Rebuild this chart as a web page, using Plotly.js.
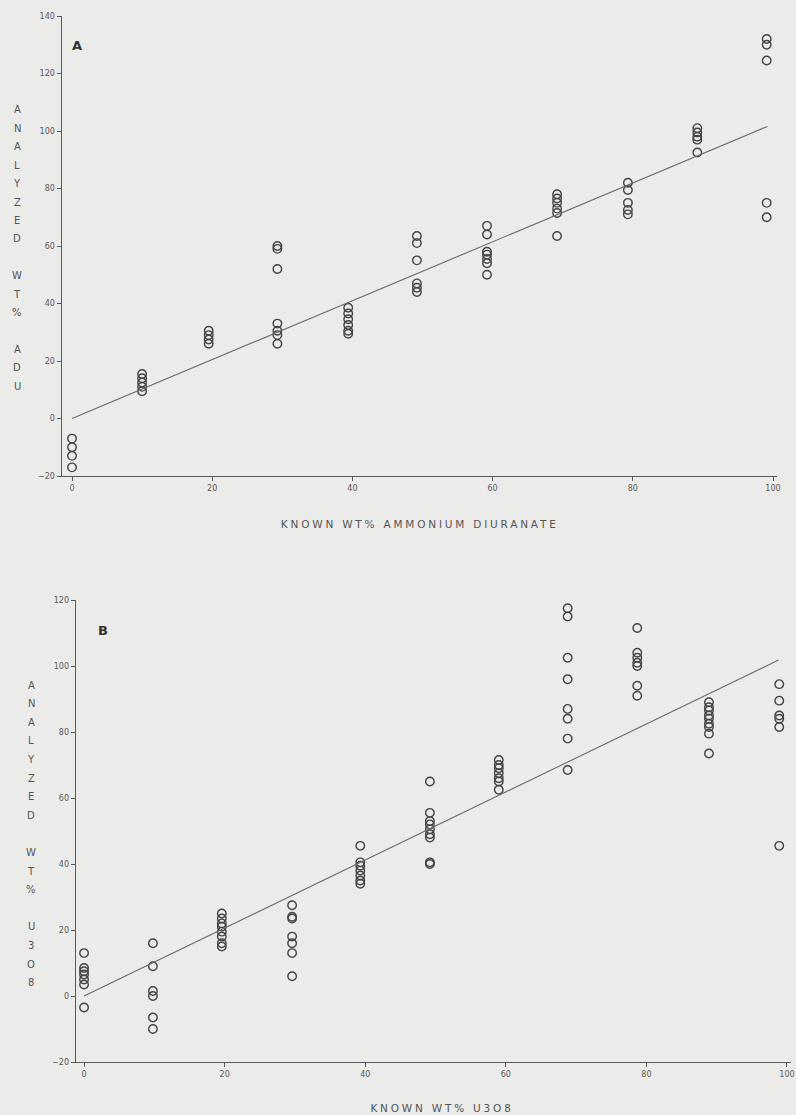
<!DOCTYPE html>
<html><head><meta charset="utf-8">
<script src="https://cdn.plot.ly/plotly-3.0.1.min.js"></script>
<style>html,body{margin:0;padding:0;background:#ebebe9}</style>
</head><body>
<div id="chart" style="width:796px;height:1115px"></div>
<script>
// ---------- Panel A : ammonium diuranate ----------
const aduKnown = [0, 10, 19.5, 29.3, 39.4, 49.2, 59.2, 69.2, 79.3, 89.2, 99.1];
const aduAnalyzed = [
  [-7, -10, -13, -17],
  [15.5, 14, 12.5, 11, 9.5],
  [30.5, 29, 27.5, 26],
  [60, 59, 52, 33, 30.5, 29, 26],
  [38.5, 36.5, 34.5, 32.5, 30.5, 29.5],
  [63.5, 61, 55, 47, 45.5, 44],
  [67, 64, 58, 57, 55.5, 54, 50],
  [78, 76.5, 75, 73, 71.5, 63.5],
  [82, 79.5, 75, 72.5, 71],
  [101, 99.5, 98, 97, 92.5],
  [132, 130, 124.5, 75, 70]
];
const aduFitX = [0, 99.2];
const aduFitY = [0, 101.6];

// ---------- Panel B : U3O8 ----------
const u3o8Known = [0, 9.8, 19.6, 29.6, 39.3, 49.2, 59, 68.8, 78.7, 88.9, 98.9];
const u3o8Analyzed = [
  [13, 8.5, 7.5, 6.5, 5, 3.5, -3.5],
  [16, 9, 1.5, 0, -6.5, -10],
  [25, 23.5, 22, 21, 19.5, 18, 16, 15],
  [27.5, 24, 23.5, 18, 16, 13, 6],
  [45.5, 40.5, 39.5, 38, 36.5, 35, 34],
  [65, 55.5, 53, 52, 50.5, 49, 48, 40.5, 40],
  [71.5, 70, 69, 67.5, 66, 65, 62.5],
  [117.5, 115, 102.5, 96, 87, 84, 78, 68.5],
  [111.5, 104, 102.5, 101, 100, 94, 91],
  [89, 87.5, 86.5, 85, 84, 82.5, 81.5, 79.5, 73.5],
  [94.5, 89.5, 85, 84, 81.5, 45.5]
];
const u3o8FitX = [0, 98.8];
const u3o8FitY = [0, 101.8];

const tickVals = [0, 20, 40, 60, 80, 100];
const aduYTicks = [-20, 0, 20, 40, 60, 80, 100, 120, 140];
const u3o8YTicks = [-20, 0, 20, 40, 60, 80, 100, 120];

const titleA_x = 'KNOWN WT% AMMONIUM DIURANATE';
const titleB_x = 'KNOWN WT% U3O8';
const titleA_y = ['A','N','A','L','Y','Z','E','D','','W','T','%','','A','D','U'];
const titleB_y = ['A','N','A','L','Y','Z','E','D','','W','T','%','','U','3','O','8'];

// ---------- build ----------
const W = 796, H = 1115;
const px = x => x / W;
const py = y => 1 - y / H;

function flatten(known, vals) {
  const xs = [], ys = [];
  known.forEach((k, i) => vals[i].forEach(v => { xs.push(k); ys.push(v); }));
  return {xs, ys};
}
const a = flatten(aduKnown, aduAnalyzed);
const b = flatten(u3o8Known, u3o8Analyzed);

const mk = {symbol: 'circle-open', size: 8.5, color: '#444', line: {width: 1.4, color: '#444'}};
const traces = [
  {x: a.xs, y: a.ys, type: 'scatter', mode: 'markers', marker: mk, xaxis: 'x', yaxis: 'y', hoverinfo: 'x+y'},
  {x: aduFitX, y: aduFitY, type: 'scatter', mode: 'lines', line: {color: '#6a6a6a', width: 1.1}, xaxis: 'x', yaxis: 'y'},
  {x: b.xs, y: b.ys, type: 'scatter', mode: 'markers', marker: mk, xaxis: 'x2', yaxis: 'y2', hoverinfo: 'x+y'},
  {x: u3o8FitX, y: u3o8FitY, type: 'scatter', mode: 'lines', line: {color: '#6a6a6a', width: 1.1}, xaxis: 'x2', yaxis: 'y2'}
];

const tickFont = {family: 'DejaVu Sans', size: 8, color: '#5a5a5a'};
function axis(extra) {
  return Object.assign({
    showline: true, linecolor: '#5a5a5a', linewidth: 1,
    ticks: 'outside', ticklen: 4, tickcolor: '#5a5a5a', tickwidth: 1,
    showgrid: false, zeroline: false, tickfont: tickFont,
    tickmode: 'array', automargin: false, fixedrange: true
  }, extra);
}

const annotations = [];
function letters(list, x, y0, step) {
  list.forEach((ch, i) => {
    if (!ch) return;
    annotations.push({text: ch, x: px(x), y: py(y0 + i * step), xref: 'paper', yref: 'paper',
      showarrow: false, xanchor: 'center', yanchor: 'middle',
      font: {family: 'DejaVu Sans', size: 10, color: '#555'}});
  });
}
letters(titleA_y, 17, 110, 18.4);
letters(titleB_y, 31, 685, 18.6);

annotations.push({text: titleA_x, x: px(420), y: py(524), xref: 'paper', yref: 'paper', showarrow: false,
  xanchor: 'center', yanchor: 'middle', font: {family: 'DejaVu Sans', size: 10.5, color: '#555'}});
annotations.push({text: titleB_x, x: px(442), y: py(1108), xref: 'paper', yref: 'paper', showarrow: false,
  xanchor: 'center', yanchor: 'middle', font: {family: 'DejaVu Sans', size: 10.5, color: '#555'}});
annotations.push({text: '<b>A</b>', x: px(77), y: py(45), xref: 'paper', yref: 'paper', showarrow: false,
  xanchor: 'center', yanchor: 'middle', font: {family: 'DejaVu Sans', size: 13, color: '#333'}});
annotations.push({text: '<b>B</b>', x: px(103), y: py(630), xref: 'paper', yref: 'paper', showarrow: false,
  xanchor: 'center', yanchor: 'middle', font: {family: 'DejaVu Sans', size: 13, color: '#333'}});

const layout = {
  width: W, height: H,
  margin: {l: 0, r: 0, t: 0, b: 0},
  paper_bgcolor: '#ebebe9', plot_bgcolor: 'rgba(0,0,0,0)',
  showlegend: false,
  xaxis: axis({domain: [px(61.5), px(776.5)], range: [-1.5, 100.5], tickvals: tickVals, anchor: 'y'}),
  yaxis: axis({domain: [py(476), py(16)], range: [-20, 140], tickvals: aduYTicks, anchor: 'x'}),
  xaxis2: axis({domain: [px(75.6), px(790.5)], range: [-1.2, 100.5], tickvals: tickVals, anchor: 'y2'}),
  yaxis2: axis({domain: [py(1062), py(600)], range: [-20, 120], tickvals: u3o8YTicks, anchor: 'x2'}),
  annotations: annotations
};

Plotly.newPlot('chart', traces, layout, {staticPlot: true}).then(() => {
  document.querySelectorAll('.annotation-text').forEach(t => {
    if (t.textContent.indexOf('KNOWN') === 0) t.style.letterSpacing = '2.8px';
  });
});
</script>
</body></html>
